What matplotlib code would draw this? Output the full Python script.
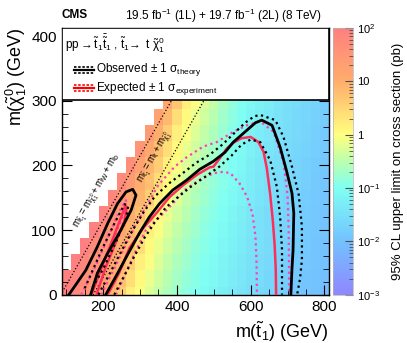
import numpy as np
import matplotlib
matplotlib.use("Agg")
import matplotlib.pyplot as plt
from matplotlib.colors import LinearSegmentedColormap, LogNorm
from matplotlib.patches import Rectangle
from matplotlib.lines import Line2D
from matplotlib.ticker import MultipleLocator

plt.rcParams['font.family'] = ['Liberation Sans', 'DejaVu Sans']
plt.rcParams['mathtext.fontset'] = 'custom'
plt.rcParams['mathtext.rm'] = 'Liberation Sans'
plt.rcParams['mathtext.it'] = 'Liberation Sans'
plt.rcParams['mathtext.bf'] = 'Liberation Sans:bold'

# bin centres (GeV)
m_stop = [100, 125, 150, 175, 200, 225, 250, 275, 300, 325, 350, 375, 400, 425, 450,
          475, 500, 525, 550, 575, 600, 625, 650, 675, 700, 725, 750, 775, 800]
m_lsp = [0, 25, 50, 75, 100, 125, 150, 175, 200, 225, 250, 275, 300]

# log10 of the 95% CL upper limit (pb), one row per m_lsp
N = None
limit_log = [
    [2.0, 1.75, 1.6, 1.4, 1.15, 0.9, 0.6, 0.2, -0.05, -0.25, -0.45, -0.6, -0.75, -0.88, -0.97,
     -1.05, -1.15, -1.25, -1.35, -1.45, -1.52, -1.6, -1.67, -1.75, -1.82, -1.88, -1.95, -2.0, -2.05],
    [2.0, 1.92, 1.68, 1.5, 1.28, 1.02, 0.75, 0.4, 0.08, -0.15, -0.35, -0.52, -0.68, -0.82, -0.92,
     -1.01, -1.1, -1.2, -1.31, -1.41, -1.5, -1.57, -1.65, -1.72, -1.8, -1.86, -1.93, -1.98, -2.03],
    [N, 2.0, 1.85, 1.6, 1.4, 1.15, 0.9, 0.6, 0.2, -0.05, -0.25, -0.45, -0.6, -0.75, -0.88,
     -0.97, -1.05, -1.16, -1.26, -1.37, -1.47, -1.54, -1.62, -1.69, -1.77, -1.84, -1.9, -1.96, -2.01],
    [N, N, 2.0, 1.78, 1.5, 1.28, 1.02, 0.75, 0.4, 0.08, -0.15, -0.35, -0.52, -0.68, -0.82,
     -0.92, -1.01, -1.11, -1.22, -1.33, -1.44, -1.51, -1.59, -1.66, -1.74, -1.81, -1.87, -1.94, -2.0],
    [N, N, N, 2.0, 1.7, 1.4, 1.15, 0.9, 0.6, 0.2, -0.05, -0.25, -0.45, -0.6, -0.75,
     -0.88, -0.97, -1.06, -1.17, -1.29, -1.41, -1.49, -1.56, -1.64, -1.71, -1.79, -1.85, -1.92, -1.98],
    [N, N, N, N, 1.93, 1.6, 1.28, 1.02, 0.75, 0.4, 0.08, -0.15, -0.35, -0.52, -0.68,
     -0.82, -0.92, -1.02, -1.13, -1.25, -1.37, -1.46, -1.54, -1.61, -1.69, -1.76, -1.83, -1.89, -1.96],
    [N, N, N, N, N, 1.85, 1.5, 1.15, 0.9, 0.6, 0.2, -0.05, -0.25, -0.45, -0.6,
     -0.75, -0.88, -0.98, -1.09, -1.2, -1.33, -1.43, -1.51, -1.59, -1.66, -1.74, -1.81, -1.87, -1.94],
    [N, N, N, N, N, N, 1.75, 1.38, 1.02, 0.75, 0.4, 0.08, -0.15, -0.35, -0.52,
     -0.68, -0.82, -0.94, -1.04, -1.16, -1.3, -1.4, -1.48, -1.56, -1.63, -1.71, -1.78, -1.85, -1.91],
    [N, N, N, N, N, N, N, 1.65, 1.25, 0.9, 0.6, 0.2, -0.05, -0.25, -0.45,
     -0.6, -0.75, -0.9, -1.01, -1.12, -1.26, -1.36, -1.46, -1.53, -1.61, -1.68, -1.76, -1.83, -1.89],
    [N, N, N, N, N, N, N, N, 1.53, 1.12, 0.75, 0.4, 0.08, -0.15, -0.35,
     -0.52, -0.68, -0.86, -0.97, -1.08, -1.23, -1.33, -1.43, -1.5, -1.58, -1.65, -1.73, -1.8, -1.87],
    [N, N, N, N, N, N, N, N, N, 1.4, 1.0, 0.6, 0.2, -0.05, -0.25,
     -0.45, -0.6, -0.79, -0.93, -1.04, -1.19, -1.29, -1.39, -1.48, -1.55, -1.62, -1.7, -1.77, -1.84],
    [N, N, N, N, N, N, N, N, N, N, 1.27, 0.85, 0.4, 0.08, -0.15,
     -0.35, -0.52, -0.73, -0.89, -1.01, -1.15, -1.25, -1.35, -1.45, -1.52, -1.6, -1.67, -1.75, -1.82],
    [N, N, N, N, N, N, N, N, N, N, N, 1.15, 0.7, 0.2, -0.05,
     -0.25, -0.45, -0.66, -0.85, -0.98, -1.12, -1.22, -1.32, -1.42, -1.5, -1.57, -1.65, -1.72, -1.8],
]

# exclusion contours (m_stop, m_lsp)
obs_x = [207, 239, 270, 298, 325, 353, 389, 426, 462, 498, 530, 553, 589, 613, 630, 658, 680, 698, 712, 717, 716, 715, 712, 709]
obs_y = [0, 33, 66, 95, 120, 141, 162, 177, 194, 206, 220, 236, 254, 266, 270, 262, 228, 190, 157, 126, 100, 69, 40, 0]
obs_isl_x = [107, 153, 184, 212, 239, 262, 280, 289, 276, 248, 212, 184, 166]
obs_isl_y = [0, 38, 74, 110, 141, 159, 163, 154, 131, 100, 64, 33, 0]
obs_up_x = [187, 218, 250, 280, 310, 340, 378, 416, 452, 490, 525, 552, 585, 610, 626, 667, 689, 712, 730, 739, 739, 734, 726]
obs_up_y = [0, 33, 68, 100, 128, 152, 172, 188, 204, 217, 233, 248, 266, 276, 278, 270, 244, 198, 156, 105, 54, 25, 0]
obs_dn_x = [230, 258, 285, 312, 340, 370, 405, 440, 478, 515, 548, 575, 600, 626, 653, 671, 680, 685, 685]
obs_dn_y = [0, 30, 60, 88, 112, 135, 152, 168, 183, 198, 215, 232, 240, 236, 208, 167, 120, 69, 0]
obs_dn_isl_x = [150, 195, 232, 258, 268, 262, 235, 200, 168]
obs_dn_isl_y = [10, 68, 112, 140, 138, 118, 82, 40, 8]

exp_x = [212, 242, 271, 307, 344, 380, 416, 453, 489, 499, 515, 535, 553, 575, 600, 621, 635, 644, 653, 660, 665, 668, 669]
exp_y = [0, 32, 72, 102, 126, 151, 169, 185, 197, 198, 210, 226, 235, 242, 244, 236, 221, 195, 155, 115, 77, 40, 0]
exp_isl_x = [168, 200, 230, 252, 260, 264, 258, 232, 205, 182]
exp_isl_y = [0, 48, 92, 125, 138, 135, 115, 78, 40, 0]
exp_up_x = [195, 225, 255, 285, 315, 350, 394, 425, 471, 508, 553, 590, 626, 662, 689, 700, 703, 704, 704]
exp_up_y = [0, 35, 70, 105, 135, 170, 198, 212, 229, 236, 252, 262, 268, 252, 205, 154, 102, 50, 0]
exp_dn_x = [235, 262, 290, 316, 353, 389, 421, 462, 500, 525, 545, 570, 590, 605, 613, 616, 617]
exp_dn_y = [0, 35, 70, 100, 120, 141, 162, 178, 188, 190, 188, 172, 152, 125, 90, 50, 0]
exp_up_isl_x = [140, 180, 218, 245, 262, 258, 225, 190, 165]
exp_up_isl_y = [0, 45, 95, 130, 146, 128, 82, 35, 0]

cmap = LinearSegmentedColormap.from_list('lim', [
    (0.0, (0.56, 0.53, 1.0)),
    (0.2, (0.45, 0.76, 1.0)),
    (0.4, (0.5, 1.0, 0.95)),
    (0.5, (0.74, 1.0, 0.68)),
    (0.6, (1.0, 1.0, 0.5)),
    (0.8, (1.0, 0.68, 0.42)),
    (1.0, (1.0, 0.5, 0.5)),
])

fig = plt.figure(figsize=(4.07, 3.43), dpi=100)
ax = fig.add_axes([0.1516, 0.1408, 0.6568, 0.7776])
cax = fig.add_axes([0.8194, 0.1408, 0.0467, 0.7776])

xe = np.append(np.array(m_stop) - 12.5, m_stop[-1] + 12.5)
ye = np.append(np.array(m_lsp) - 12.5, m_lsp[-1] + 12.5)
z = 10 ** np.array(limit_log, dtype=float)
pcm = ax.pcolormesh(xe, ye, z, cmap=cmap, norm=LogNorm(1e-3, 1e2), zorder=0)

# kinematic limits
kx = np.array([0, 900])
ax.plot(kx, kx - 85, color='k', ls=':', lw=0.9, zorder=2)
ax.plot(kx, kx - 173, color='k', ls=':', lw=0.9, zorder=2)
ax.text(186, 160, r'$\mathrm{m}_{\tilde{t}_1} = \mathrm{m}_{\tilde{\chi}^0_1} + \mathrm{m}_W + \mathrm{m}_b$',
        fontsize=7, rotation=60.5, ha='center', va='center', rotation_mode='anchor', zorder=2)
ax.text(342, 212, r'$\mathrm{m}_{\tilde{t}_1} = \mathrm{m}_t + \mathrm{m}_{\tilde{\chi}^0_1}$',
        fontsize=7, rotation=60.5, ha='center', va='center', rotation_mode='anchor', zorder=2)

red = '#ff2d5a'
pink = '#ff3fb4'
dots = (0, (1, 1.6))
ax.plot(exp_up_x, exp_up_y, color=pink, ls=dots, lw=1.6, zorder=3)
ax.plot(exp_dn_x, exp_dn_y, color=pink, ls=dots, lw=1.6, zorder=3)
ax.plot(exp_up_isl_x, exp_up_isl_y, color=pink, ls=dots, lw=1.6, zorder=3)
ax.plot(exp_x, exp_y, color=red, lw=1.8, zorder=3)
ax.plot(exp_isl_x, exp_isl_y, color=red, lw=1.8, zorder=3)
ax.plot(obs_up_x, obs_up_y, color='k', ls=dots, lw=1.6, zorder=4)
ax.plot(obs_dn_x, obs_dn_y, color='k', ls=dots, lw=1.6, zorder=4)
ax.plot(obs_dn_isl_x, obs_dn_isl_y, color='k', ls=dots, lw=1.6, zorder=4)
ax.plot(obs_x, obs_y, color='k', lw=2.0, zorder=4)
ax.plot(obs_isl_x, obs_isl_y, color='k', lw=2.0, zorder=4)

ax.set_xlim(87.5, 812.5)
ax.set_ylim(0, 412.5)
ax.xaxis.set_major_locator(MultipleLocator(200))
ax.xaxis.set_minor_locator(MultipleLocator(50))
ax.yaxis.set_major_locator(MultipleLocator(100))
ax.yaxis.set_minor_locator(MultipleLocator(20))
ax.tick_params(which='both', direction='in', top=False, right=True, labelsize=11)
ax.tick_params(which='major', length=7)
ax.tick_params(which='minor', length=4)
for s in ax.spines.values():
    s.set_linewidth(1.0)

ax.set_xlabel(r'm($\tilde{\mathrm{t}}_1$) (GeV)', fontsize=13, loc='right', labelpad=4)
ax.set_ylabel(r'm($\tilde{\chi}^0_1$) (GeV)', fontsize=13, loc='top', labelpad=2)

# legend box
ax.add_patch(Rectangle((0, 0.73), 1, 0.27, transform=ax.transAxes, facecolor='white',
                       edgecolor='k', lw=1.2, zorder=5))
ax.text(0.012, 0.94, r'pp$\rightarrow\tilde{\mathrm{t}}_1\bar{\tilde{\mathrm{t}}}_1$ , $\tilde{\mathrm{t}}_1\!\rightarrow$ t $\tilde{\chi}^0_1$',
        transform=ax.transAxes, fontsize=8.5, va='center', zorder=6)
for yy, col, dcol, lab in [(0.843, 'k', 'k', r'Observed $\pm$ 1 $\sigma_{\mathrm{theory}}$'),
                           (0.775, 'red', 'red', r'Expected $\pm$ 1 $\sigma_{\mathrm{experiment}}$')]:
    d = 0.011
    ax.add_line(Line2D([0.046, 0.122], [yy, yy], color=col, lw=1.6, transform=ax.transAxes, zorder=6))
    for off in (-d, d):
        ax.add_line(Line2D([0.046, 0.122], [yy + off, yy + off], color=dcol, lw=1.2,
                           ls=(0, (1.5, 1)), transform=ax.transAxes, zorder=6))
    ax.text(0.128, yy, lab, transform=ax.transAxes, fontsize=8.5, va='center', zorder=6)

cb = fig.colorbar(pcm, cax=cax)
cb.outline.set_edgecolor('0.7')
cb.outline.set_linewidth(0.5)
cb.set_ticks([1e-3, 1e-2, 1e-1, 1, 10, 1e2])
cb.set_ticklabels([r'10$^{-3}$', r'10$^{-2}$', r'10$^{-1}$', '1', '10', r'10$^{2}$'])
cax.tick_params(which='both', direction='in', labelsize=8, color='0.3')
cax.tick_params(which='major', length=6)
cax.tick_params(which='minor', length=3)
cb.set_label('95% CL upper limit on cross section (pb)', fontsize=9.5, labelpad=8)

fig.text(0.152, 0.955, 'CMS', fontsize=8.5, fontweight='bold', va='center')
fig.text(0.792, 0.955, r'19.5 fb$^{-1}$ (1L) + 19.7 fb$^{-1}$ (2L) (8 TeV)', fontsize=8.5,
         va='center', ha='right')

fig.savefig('out.png', dpi=100)
